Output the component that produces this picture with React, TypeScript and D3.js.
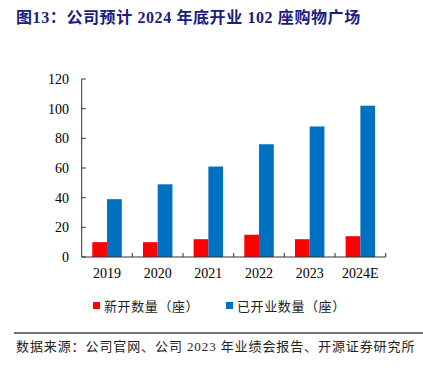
import React from "react";
import * as d3 from "d3";

const width = 423;
const height = 368;

const years = ["2019", "2020", "2021", "2022", "2023", "2024E"];
const newOpened = [10, 10, 12, 15, 12, 14];
const totalOpened = [39, 49, 61, 76, 88, 102];
const seriesNames = ["新开数量（座）", "已开业数量（座）"];
const seriesColors = ["#FF0000", "#0070C0"];
const yTicks = [0, 20, 40, 60, 80, 100, 120];

const serif = "'Liberation Serif', 'Times New Roman', 'Noto Sans CJK SC', serif";
const cjk = "'Liberation Serif', 'Noto Sans CJK SC', serif";

const plot = { left: 81.7, right: 385.7, top: 79, bottom: 257 };

export default function App() {
  const x = d3.scaleBand<string>().domain(years).range([plot.left, plot.right]);
  const inner = d3
    .scaleBand<string>()
    .domain(["new", "total"])
    .range([10.6, x.bandwidth() - 10.6]);
  const y = d3.scaleLinear().domain([0, 120]).range([plot.bottom, plot.top]);

  const series = [newOpened, totalOpened];
  const keys = ["new", "total"];

  return (
    <svg
      width={width}
      height={height}
      style={{ position: "absolute", left: 0, top: 0, background: "#fff" }}
    >
      {/* title */}
      <text
        x={16}
        y={23}
        fontFamily={cjk}
        fontWeight="bold"
        fontSize={16}
        letterSpacing={0.6}
        fill="#1c1c80"
      >
        图13：公司预计 2024 年底开业 102 座购物广场
      </text>

      {/* bars */}
      {series.map((vals, s) =>
        vals.map((v, i) => (
          <rect
            key={`${s}-${i}`}
            x={(x(years[i]) as number) + (inner(keys[s]) as number)}
            y={y(v)}
            width={inner.bandwidth()}
            height={y(0) - y(v)}
            fill={seriesColors[s]}
          />
        ))
      )}

      {/* y axis */}
      <line x1={plot.left} x2={plot.left} y1={plot.top} y2={plot.bottom} stroke="#333" />
      {yTicks.map(t => (
        <g key={t}>
          <line x1={plot.left} x2={plot.left + 4} y1={y(t)} y2={y(t)} stroke="#333" />
          <text
            x={69}
            y={y(t) + 5}
            textAnchor="end"
            fontFamily={serif}
            fontSize={14}
            fill="#000"
          >
            {t}
          </text>
        </g>
      ))}

      {/* x axis */}
      <line x1={plot.left} x2={plot.right} y1={plot.bottom} y2={plot.bottom} stroke="#333" />
      {years.map(yr => (
        <g key={yr}>
          <line
            x1={(x(yr) as number) + x.bandwidth()}
            x2={(x(yr) as number) + x.bandwidth()}
            y1={plot.bottom}
            y2={plot.bottom - 4}
            stroke="#333"
          />
          <text
            x={(x(yr) as number) + x.bandwidth() / 2}
            y={278}
            textAnchor="middle"
            fontFamily={serif}
            fontSize={14}
            fill="#000"
          >
            {yr}
          </text>
        </g>
      ))}

      {/* legend */}
      {seriesNames.map((name, s) => {
        const lx = s === 0 ? 93 : 226;
        return (
          <g key={name}>
            <rect x={lx} y={302} width={7} height={7} fill={seriesColors[s]} />
            <text
              x={lx + 11}
              y={311}
              fontFamily={cjk}
              fontSize={13}
              letterSpacing={0.6}
              fill="#222"
            >
              {name}
            </text>
          </g>
        );
      })}

      {/* separator and source */}
      <line x1={14} x2={423} y1={333} y2={333} stroke="#444" strokeWidth={1.5} />
      <text
        x={16}
        y={351}
        fontFamily={cjk}
        fontSize={13}
        letterSpacing={0.9}
        fill="#222"
      >
        数据来源：公司官网、公司 2023 年业绩会报告、开源证券研究所
      </text>
    </svg>
  );
}
